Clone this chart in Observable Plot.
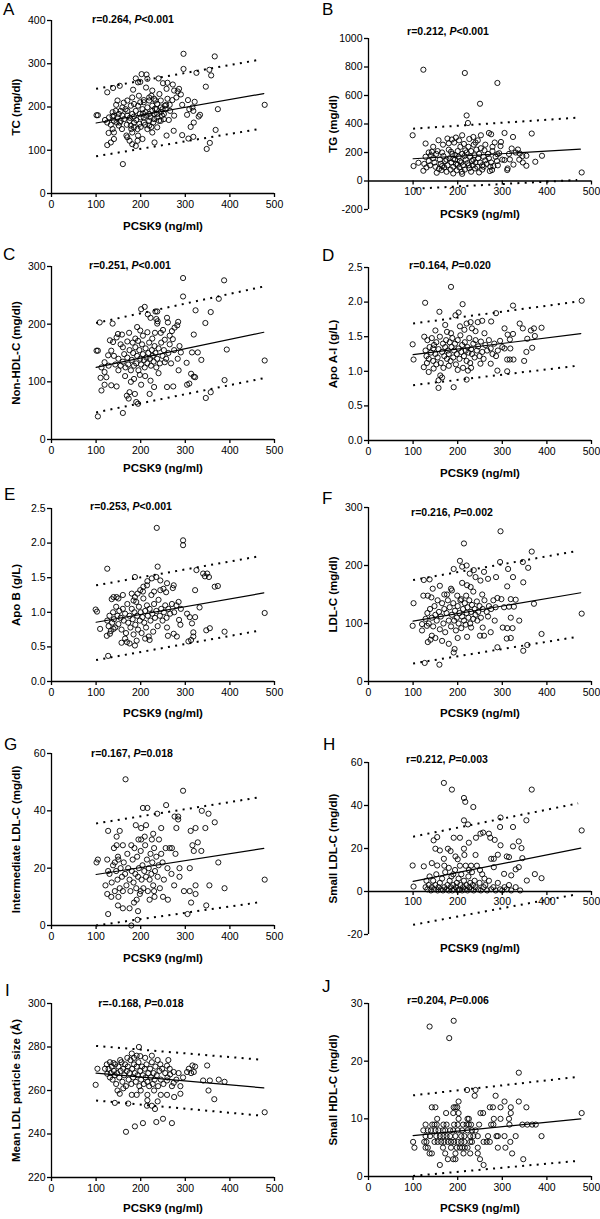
<!DOCTYPE html>
<html><head><meta charset="utf-8">
<script src="https://cdn.jsdelivr.net/npm/d3@7"></script>
<script src="https://cdn.jsdelivr.net/npm/@observablehq/plot@0.6"></script>
<style>
html,body{margin:0;padding:0;background:#fff;}
#root{position:relative;width:600px;height:1219px;overflow:hidden;font-family:"Liberation Sans",Arial,sans-serif;color:#000;}
.pan{position:absolute;}
.let{position:absolute;font-size:17px;line-height:17px;}
.stat{position:absolute;transform:translate(-50%,-50%);font-weight:bold;font-size:10.5px;white-space:nowrap;}
</style></head><body><div id="root"></div>
<script>
// ---------- data ----------
const panelKeys = ["A","B","C","D","E","F","G","H","I","J"];
const xLabel = "PCSK9 (ng/ml)";
const yLabels = ["TC (mg/dl)","TG (mg/dl)","Non-HDL-C (mg/dl)","Apo A-I (g/L)","Apo B (g/L)","LDL-C (mg/dl)","Intermediate LDL-C (mg/dl)","Small LDL-C (mg/dl)","Mean LDL particle size (\u00C5)","Small HDL-C (mg/dl)"];
const statR = ["0.264","0.212","0.251","0.164","0.253","0.216","0.167","0.212","-0.168","0.204"];
const statP = ["<0.001","<0.001","<0.001","=0.020","<0.001","=0.002","=0.018","=0.003","=0.018","=0.006"];
const xTicks = [0,100,200,300,400,500];

const ptsTC = [[101,181],[104,181],[160,68],[296,323],[366,317],[296,288],[325,279],[354,286],[358,273],[346,247],[373,195],[478,205],[368,147],[348,103],[355,117],[293,135],[258,134],[274,145],[231,118],[307,127],[318,131],[312,154],[319,164],[333,182],[330,178],[304,182],[309,195],[318,191],[321,212],[316,199],[306,216],
[189,266],[202,276],[213,275],[194,257],[199,258],[240,266],[226,238],[250,255],[258,242],[260,256],[215,265],[272,252],[275,238],[283,236],[286,242],[290,229],[280,222],[293,205],[271,216],[257,205],[249,195],[254,203],[224,226],[230,219],[219,215],[196,226],[207,216],[181,222],[153,249],[138,244],[148,215],[170,215],[125,234],
[125,112],[133,118],[140,126],[137,149],[140,141],[153,164],[168,134],[175,122],[181,114],[189,110],[193,122],[204,126],[194,134],[181,141],[179,149],[170,130],[215,149],[224,154],[226,141],[237,153],[245,168],[252,172],[263,170],[275,180],[148,176],[155,191],[166,195],[178,203],[189,191],[198,184],[207,176],[219,184],[226,191],[236,195],[245,188],[252,184],[237,176],[230,172],[219,168],[207,164],[197,161],[185,164],[175,168],[163,172],[151,184],[144,191],[137,188],[129,176],[125,164],[133,159],[140,168],[151,157],[158,149],[169,159],[178,157],[185,153],[193,149],[200,154],[210,159],[219,157],[228,164],[237,184],[245,199],[256,195],[266,191],[260,219],[237,207],[215,199],[204,195],[194,203],[181,184],[170,180],[159,180],[140,180],[159,199],[170,191],[200,176],[211,188],[222,176],[231,184],[241,168],[248,180],[226,203],[233,215],[245,215],[207,211],[219,222],[185,207],[199,211],[155,168],[146,164],[137,178],[120,170],[128,140],[145,205],[162,210],[185,178],[213,180],[232,196],[176,175],[190,170],[205,185],[265,205],[242,230],[212,245],[183,240]];
const fitTC = [[100,163],[476,231]];
const upTC = [[100,242],[465,309]];
const loTC = [[100,86],[465,149]];

const ptsTG = [[123,781],[216,758],[289,688],[250,542],[220,460],[223,407],[99,321],[128,263],[366,333],[324,309],[305,337],[270,337],[275,328],[252,321],[235,309],[177,298],[187,291],[157,286],[196,305],[210,321],[297,274],[321,228],[335,221],[339,193],[354,177],[389,177],[374,135],[354,107],[346,130],[317,151],[305,147],[289,188],[312,88],[311,77],[478,60],[101,105],[112,128],[123,72],[153,58],[164,77],[190,53],[209,65],[239,88],[258,100],[277,77],[273,100],
[125,120],[130,95],[135,140],[138,110],[140,180],[142,205],[145,160],[148,130],[150,100],[152,190],[155,210],[158,85],[160,150],[162,120],[165,200],[168,175],[170,95],[172,140],[175,65],[177,110],[180,220],[182,160],[184,80],[186,130],[188,190],[190,100],[192,270],[194,150],[196,120],[198,75],[200,210],[202,170],[204,95],[206,240],[208,130],[210,190],[212,110],[214,260],[216,80],[218,150],[220,200],[222,125],[224,240],[226,90],[228,170],[230,210],[232,140],[234,110],[236,255],[238,180],[240,130],[242,220],[244,100],[246,160],[248,190],[250,130],[252,230],[255,110],[258,170],[260,215],[262,145],[265,120],[268,190],[270,160],[272,70],[275,130],[278,210],[280,105],[283,270],[285,170],[288,140],[290,110],[293,195],[296,245],[300,150],[203,285],[226,295],[245,285],[180,265],[167,255],[145,240],[135,200],[128,170],[205,140],[215,175],[195,180],[185,205],[175,150],[165,105],[225,110],[235,150],[255,80],[262,255],[248,60],[230,65],[210,50],[190,155],[200,115],[217,215],[240,270],[278,240],[315,190],[330,200],[345,175],[325,115],[338,150]];
const fitTG = [[100,156],[475,223]];
const upTG = [[100,367],[468,444]];
const loTG = [[105,-54],[468,7]];

const ptsNonHDL = [[295,280],[387,276],[295,248],[375,244],[323,224],[357,221],[345,202],[319,182],[393,156],[478,137],[388,103],[357,82],[346,72],[303,133],[304,95],[309,97],[319,109],[313,114],[322,108],[328,151],[336,138],[315,151],[290,151],[287,162],[284,204],[282,198],[276,194],[272,174],[270,188],[254,173],[237,201],[235,209],[238,205],[259,211],[261,203],[265,165],[254,134],[273,92],[259,91],[230,91],[222,102],[220,79],[201,95],[194,62],[190,65],[187,79],[175,82],[173,71],[169,76],[160,46],[104,40],
[101,154],[104,154],[134,94],[146,92],[119,95],[112,85],[110,107],[119,117],[112,125],[119,134],[127,146],[134,154],[138,169],[131,172],[146,177],[149,183],[158,182],[137,201],[108,203],[201,226],[209,230],[216,217],[222,211],[233,222],[237,222],[199,189],[194,171],[215,186],
[150,140],[155,128],[160,135],[163,148],[166,125],[170,142],[172,130],[175,155],[178,120],[180,138],[183,150],[185,128],[188,160],[190,132],[192,145],[195,120],[197,155],[199,140],[201,130],[203,165],[205,148],[207,138],[209,125],[211,158],[213,142],[215,132],[217,150],[219,168],[221,140],[223,128],[225,155],[227,145],[229,135],[231,162],[233,150],[235,125],[237,140],[240,158],[243,132],[246,168],[249,145],[252,155],[257,140],[262,150],[268,132],[275,155],[283,140],[165,110],[178,100],[185,105],[160,160],[170,170],[188,175],[205,180],[226,175],[245,185],[150,120],[143,130],[140,145],[210,110],[240,115],[198,112],[182,168],[155,165],[174,185],[192,195],[232,185],[250,190],[265,180],[128,128],[123,108],[285,120]];
const fitNonHDL = [[100,125],[476,186]];
const upNonHDL = [[100,202],[474,265]];
const loNonHDL = [[100,47],[474,106]];

const ptsApoA = [[185,2.22],[127,1.99],[211,1.97],[159,1.86],[202,1.85],[324,1.95],[286,1.84],[478,2.02],[388,1.63],[339,1.69],[346,1.62],[364,1.59],[371,1.62],[373,1.51],[356,1.47],[305,1.62],[312,1.53],[324,1.54],[317,1.46],[318,1.33],[305,1.33],[367,1.34],[354,1.28],[349,1.15],[325,1.17],[317,1.17],[311,1.17],[311,1.00],[191,0.77],[157,0.76],[157,0.87],[165,0.91],[220,0.88],[223,1.01],[251,1.11],[274,1.11],[289,1.01],[135,0.99],[101,1.17],[99,1.39],[125,1.50],[124,1.06],[146,1.04],[152,1.10],[161,0.94],[275,1.72],[255,1.73],[245,1.71],[229,1.71],[220,1.69],[232,1.62],[195,1.81],[172,1.67],[176,1.57],[150,1.59],
[128,1.30],[130,1.22],[132,1.45],[135,1.18],[137,1.35],[140,1.27],[142,1.48],[145,1.15],[147,1.38],[150,1.25],[152,1.42],[155,1.20],[157,1.32],[160,1.50],[162,1.12],[165,1.28],[167,1.40],[170,1.22],[172,1.35],[174,1.45],[176,1.18],[178,1.30],[180,1.25],[182,1.42],[184,1.15],[186,1.35],[188,1.48],[190,1.20],[192,1.30],[194,1.40],[196,1.10],[198,1.25],[200,1.45],[202,1.33],[204,1.18],[206,1.52],[208,1.28],[210,1.38],[212,1.05],[214,1.22],[216,1.42],[218,1.30],[220,1.15],[222,1.35],[224,1.27],[226,1.48],[228,1.12],[230,1.32],[232,1.25],[235,1.40],[238,1.20],[240,1.45],[243,1.30],[246,1.36],[249,1.22],[252,1.43],[255,1.28],[258,1.18],[262,1.38],[266,1.30],[270,1.45],[274,1.33],[278,1.25],[282,1.40],[286,1.22],[290,1.30],[295,1.44],[300,1.35],[168,1.05],[180,1.08],[200,1.02],[185,1.55],[215,1.60],[240,1.58],[260,1.55],[145,1.33],[131,1.12],[205,1.65],[230,1.05]];
const fitApoA = [[100,1.24],[476,1.545]];
const upApoA = [[100,1.69],[472,2.01]];
const loApoA = [[100,0.80],[469,1.08]];

const ptsApoB = [[236,2.22],[295,2.04],[295,1.97],[125,1.63],[238,1.66],[187,1.51],[225,1.49],[325,1.61],[340,1.56],[349,1.56],[353,1.51],[344,1.52],[366,1.37],[373,1.38],[478,0.99],[388,0.72],[355,0.77],[347,0.74],[307,0.58],[313,0.60],[318,0.71],[318,0.65],[315,0.84],[310,0.93],[304,0.98],[322,0.93],[322,1.32],[332,1.07],[286,0.89],[289,0.82],[281,0.65],[274,0.69],[261,0.66],[259,0.78],[274,1.39],[272,1.35],[257,1.29],[259,1.42],[251,1.34],[244,1.32],[235,1.51],[244,1.46],[187,0.52],[191,0.59],[169,0.57],[157,0.56],[127,0.37],[124,0.66],[131,0.69],[139,0.76],[109,0.76],[99,1.04],[102,1.01],[139,1.22],[146,1.22],[135,1.19],[187,1.22],[199,1.32],[206,1.37],[214,1.39],[193,1.27],[184,1.17],[180,1.27],
[125,0.88],[128,0.80],[130,0.95],[133,0.73],[136,0.85],[138,1.00],[140,0.90],[143,0.78],[145,1.08],[148,0.95],[150,0.83],[152,1.02],[155,0.92],[157,0.75],[160,1.05],[162,0.88],[165,0.98],[167,0.70],[170,1.12],[172,0.85],[175,0.95],[177,0.78],[180,1.05],[182,0.90],[184,0.68],[186,1.00],[188,0.82],[190,1.15],[192,0.95],[194,0.75],[196,1.08],[198,0.88],[200,1.00],[202,0.70],[204,0.93],[206,1.20],[208,0.85],[210,1.02],[212,0.78],[214,1.10],[216,0.95],[218,0.65],[220,1.05],[222,0.88],[224,1.25],[226,0.98],[228,0.72],[230,1.12],[232,0.92],[235,1.02],[238,0.80],[240,1.18],[243,0.95],[246,1.05],[249,0.88],[252,1.00],[255,1.10],[258,0.92],[262,1.05],[266,0.98],[270,1.12],[275,1.00],[280,1.10],[285,1.15],[290,1.05],[165,0.62],[175,0.55],[210,0.62],[220,0.60],[150,1.20],[160,1.25],[205,1.30],[215,1.45],[230,1.30]];
const fitApoB = [[100,0.856],[476,1.28]];
const upApoB = [[100,1.39],[466,1.81]];
const loApoB = [[100,0.31],[466,0.735]];

const ptsLDL = [[296,259],[214,238],[366,224],[295,206],[205,208],[210,198],[191,194],[358,196],[347,171],[346,206],[313,194],[324,180],[286,180],[268,177],[259,189],[236,192],[227,186],[251,174],[220,200],[371,134],[311,164],[330,141],[319,142],[298,142],[289,144],[304,128],[315,129],[326,129],[338,105],[319,110],[301,93],[311,92],[323,92],[310,74],[319,75],[289,59],[347,53],[356,63],[388,82],[478,117],[268,112],[283,105],[274,85],[259,79],[250,79],[256,93],[244,105],[230,93],[221,77],[193,56],[191,50],[159,29],[126,32],[101,135],[99,96],[120,99],[131,96],[139,72],[133,68],[142,79],[120,88],[124,175],[137,176],[123,148],[133,148],[141,145],[144,160],[187,157],[176,150],[199,148],[208,142],[219,148],[221,166],[229,163],[240,180],
[128,108],[132,118],[135,100],[138,125],[142,110],[145,95],[148,130],[150,115],[153,105],[155,140],[158,120],[160,90],[162,112],[165,135],[168,100],[170,125],[172,85],[175,118],[178,140],[180,105],[182,128],[185,95],[187,115],[190,135],[192,105],[194,122],[196,88],[198,110],[200,130],[202,100],[204,118],[206,140],[208,92],[210,112],[212,125],[214,105],[216,135],[218,98],[220,118],[222,128],[224,110],[226,140],[228,100],[230,120],[232,132],[235,108],[238,125],[240,115],[243,138],[246,120],[249,130],[252,110],[256,125],[260,140],[265,120],[270,130],[275,125],[280,140],[285,128],[150,75],[165,70],[180,65],[200,75],[170,150],[185,160],[160,165],[210,170],[235,155],[255,150]];
const fitLDL = [[100,104],[476,153]];
const upLDL = [[100,175],[468,225]];
const loLDL = [[100,31],[468,77]];

const ptsIDL = [[166,51],[295,47],[257,42],[205,41],[215,41],[237,39],[276,38],[284,38],[280,34],[284,37],[337,40],[352,39],[366,36],[345,34],[323,34],[312,33],[328,29],[316,28],[336,26],[319,26],[374,22],[478,16],[354,14],[323,14],[388,13],[347,7],[305,4],[313,8],[310,12],[297,12],[323,11],[310,20],[287,20],[287,17],[269,18],[275,14],[261,9],[250,10],[231,10],[220,9],[191,9],[194,5],[193,2],[179,0],[149,7],[127,4],[134,10],[125,11],[121,14],[127,19],[142,22],[104,23],[101,22],[125,23],[127,33],[153,33],[146,31],[146,28],[140,27],[149,24],[179,28],[189,35],[201,30],[209,31],[228,32],[246,34],[241,30],[225,30],[201,34],
[130,18],[135,15],[138,21],[142,12],[145,19],[148,16],[150,23],[153,13],[155,20],[158,17],[160,12],[162,22],[165,18],[168,14],[170,25],[172,20],[175,16],[177,12],[180,19],[182,23],[184,15],[186,27],[188,18],[190,13],[192,24],[194,17],[196,20],[198,11],[200,26],[202,16],[204,21],[206,13],[208,19],[210,28],[212,17],[214,23],[216,12],[218,20],[220,16],[222,25],[224,18],[226,22],[228,14],[230,27],[232,19],[235,24],[238,17],[240,21],[243,13],[246,25],[249,22],[252,16],[256,27],[260,20],[265,27],[270,27],[278,25],[185,8],[175,6],[200,12],[160,28],[150,10],[212,35],[195,30],[230,12],[160,6]];
const fitIDL = [[100,17.8],[476,26.9]];
const upIDL = [[100,35.6],[466,44.7]];
const loIDL = [[100,0],[466,8.1]];

const ptsSmallLDL = [[169,50.5],[187,47.4],[366,47.4],[214,43.5],[217,41.7],[235,39.3],[270,26.9],[296,34.4],[295,30],[324,30],[354,33.1],[214,33.1],[223,31.2],[251,26.9],[257,27.4],[273,25],[283,24],[241,25],[225,22.7],[214,19.9],[191,25],[205,25],[154,25.3],[146,23.8],[150,19.9],[160,19.1],[178,19.9],[184,18.8],[169,15.2],[195,16.3],[296,21.5],[290,17.1],[310,16.3],[343,20.2],[337,23.3],[324,21],[315,16],[345,15.5],[373,8.1],[388,6.2],[355,5.1],[337,11.3],[330,10.3],[304,8.2],[320,7.5],[281,11.3],[275,15.2],[281,15.2],[478,28.4],[99,12.1],[101,2.3],[124,11.7],[142,13.2],[154,12.1],
[128,2],[130,5],[132,1],[135,3],[137,7],[140,0.5],[142,2],[145,5],[147,1],[150,3],[152,8],[155,0.5],[157,2],[160,4],[162,1],[165,6],[167,0.5],[170,2],[172,9],[175,1],[177,3],[180,0.5],[182,5],[184,2],[186,7],[188,0.5],[190,3],[192,1],[194,10],[196,2],[198,4],[200,0.5],[202,6],[204,1],[206,3],[208,8],[210,0.5],[212,2],[214,5],[216,1],[218,12],[220,3],[222,0.5],[224,7],[226,2],[228,4],[230,1],[232,9],[234,3],[236,0.5],[238,5],[240,2],[243,12],[246,1],[249,4],[252,0.5],[255,8],[258,2],[262,3],[266,0.5],[270,5],[275,1],[280,2],[285,0.5],[290,4],[295,1],[300,0.5],[305,2],[310,1],[315,3],[320,0.5],[330,2],[340,0.5],[205,12],[230,12],[250,10],[190,8],[180,11],[225,10],[260,6],[170,12],[200,15],[215,17],[240,17]];
const fitSmallLDL = [[100,4.7],[476,20.2]];
const upSmallLDL = [[100,25.5],[470,41]];
const loSmallLDL = [[100,-15.5],[470,-1.2]];

const ptsSize = [[99,262.6],[103,270],[167,241],[187,243.5],[205,245],[235,245.5],[250,247],[270,245],[478,250],[365,256],[352,260],[340,264.6],[355,264.6],[375,265],[388,264],[349,271.5],[319,268.5],[316,271.5],[308,270],[322,271],[313,268],[304,268.5],[295,266],[289,262],[289,258.5],[275,257],[259,258],[225,253],[215,255.5],[191,258],[172,254],[142,254.3],[148,260],[161,261],[153,258.5],[180,258],[214,253],[232,251.5],[238,255],[259,264.6],[274,263.5],[266,267.4],[274,268.5],[285,268],[259,271.4],[262,274],[244,272],[238,274],[199,275.8],[196,280],[191,276],[180,277],[154,274],[139,272.6],[131,273],[124,272],[120,270],[125,267.7],[131,266],[142,267],
[128,270],[133,268],[135,271],[137,265],[140,269],[143,272],[145,263],[147,268],[150,271],[152,266],[155,269],[157,273],[159,264],[161,270],[163,267],[165,272],[167,262],[169,269],[171,271],[173,265],[175,268],[177,274],[179,263],[181,270],[183,266],[185,272],[187,268],[189,264],[191,271],[193,267],[195,273],[197,262],[199,269],[201,265],[203,271],[205,267],[207,263],[209,270],[211,266],[213,272],[215,264],[217,268],[219,262],[221,270],[223,266],[225,273],[227,263],[229,268],[231,265],[233,271],[236,267],[239,262],[242,269],[245,265],[248,270],[251,263],[255,268],[260,266],[265,270],[270,262],[280,265],[215,258],[200,260],[230,260],[245,258],[185,275],[210,275],[225,276],[170,275]];
const fitSize = [[100,268],[476,261.2]];
const upSize = [[100,280.5],[468,274.2]];
const loSize = [[100,255.4],[468,248.5]];

const ptsSmallHDL = [[137,26],[191,27],[181,24],[337,18],[478,11],[388,7],
[160,2],[258,2],[178,3],[190,3],[195,3],[250,3],[347,3],
[137,4],[142,4],[172,4],[195,4],[213,4],[228,4],[245,4],[322,4],
[103,5],[128,5],[133,5],[167,5],[185,5],[198,5],[205,5],[210,5],[216,5],[222,5],[245,5],[290,5],[307,5],
[100,6],[125,6],[130,6],[148,6],[155,6],[163,6],[170,6],[178,6],[185,6],[192,6],[200,6],[208,6],[215,6],[228,6],[232,6],[258,6],[265,6],[272,6],[318,6],
[128,7],[138,7],[152,7],[160,7],[168,7],[175,7],[183,7],[195,7],[208,7],[215,7],[228,7],[235,7],[245,7],[268,7],[287,7],[290,7],[305,7],[330,7],
[123,8],[133,8],[140,8],[150,8],[157,8],[167,8],[172,8],[183,8],[190,8],[200,8],[210,8],[222,8],[232,8],[240,8],
[128,9],[143,9],[148,9],[153,9],[168,9],[175,9],[192,9],[200,9],[212,9],[220,9],[225,9],[230,9],[248,9],[275,9],[280,9],[316,9],[345,9],[356,9],[367,9],[375,9],
[154,10],[202,10],[222,10],[225,10],[281,10],[296,10],[315,10],
[174,11],[190,11],[202,11],[251,11],[257,11],[319,11],
[142,12],[150,12],[191,12],[195,12],[199,12],[272,12],[279,12],[296,12],[319,12],[354,12],
[202,13],[305,13],[337,13],[238,14],[285,14],[221,15],[240,15]];
const fitSmallHDL = [[100,7.1],[476,10.0]];
const upSmallHDL = [[100,14.07],[468,17.26]];
const loSmallHDL = [[100,0.1],[468,2.7]];

// ---------- layout ----------
const panels = [
 {col:0, top:20,   bottom:193,  yDomain:[0,400],    yTicks:[0,100,200,300,400],          pts:ptsTC,       fit:fitTC,       up:upTC,       lo:loTC,       xDy:33, stat:[133,19],   letter:[3,9.5]},
 {col:1, top:38,   bottom:209,  yDomain:[-200,1000],yTicks:[-200,0,200,400,600,800,1000],pts:ptsTG,     fit:fitTG,       up:upTG,       lo:loTG,       xDy:5,  stat:[448,31],   letter:[322,9.5]},
 {col:0, top:266,  bottom:439,  yDomain:[0,300],    yTicks:[0,100,200,300],              pts:ptsNonHDL,   fit:fitNonHDL,   up:upNonHDL,   lo:loNonHDL,   xDy:29, stat:[130,265],  letter:[3,254]},
 {col:1, top:267,  bottom:440,  yDomain:[0,2.5],    yTicks:[0,0.5,1,1.5,2,2.5], dec:true,    pts:ptsApoA,     fit:fitApoA,     up:upApoA,     lo:loApoA,     xDy:33, stat:[450,265],  letter:[322,255]},
 {col:0, top:508,  bottom:681,  yDomain:[0,2.5],    yTicks:[0,0.5,1,1.5,2,2.5], dec:true,    pts:ptsApoB,     fit:fitApoB,     up:upApoB,     lo:loApoB,     xDy:32, stat:[131,506],  letter:[4,494]},
 {col:1, top:507,  bottom:681,  yDomain:[0,300],    yTicks:[0,100,200,300],              pts:ptsLDL,      fit:fitLDL,      up:upLDL,      lo:loLDL,      xDy:32, stat:[452,512],  letter:[322,498]},
 {col:0, top:753,  bottom:925,  yDomain:[0,60],     yTicks:[0,20,40,60],                 pts:ptsIDL,      fit:fitIDL,      up:upIDL,      lo:loIDL,      xDy:33, stat:[132,753],  letter:[4,744]},
 {col:1, top:762,  bottom:934,  yDomain:[-20,60],   yTicks:[-20,0,20,40,60],             pts:ptsSmallLDL, fit:fitSmallLDL, up:upSmallLDL, lo:loSmallLDL, xDy:14, stat:[447,759],  letter:[323,744]},
 {col:0, top:1003, bottom:1177, yDomain:[220,300],  yTicks:[220,240,260,280,300],        pts:ptsSize,     fit:fitSize,     up:upSize,     lo:loSize,     xDy:31, stat:[141,1003], letter:[5,990]},
 {col:1, top:1003, bottom:1176, yDomain:[0,30],     yTicks:[0,10,20,30],                 pts:ptsSmallHDL, fit:fitSmallHDL, up:upSmallHDL, lo:loSmallHDL, xDy:32, stat:[448,1000], letter:[322,986]}
];

const root = document.getElementById("root");
const FONT = '"Liberation Sans", Arial, sans-serif';

panels.forEach((p, i) => {
  const left = p.col ? 300 : 0;
  const mL = p.col ? 68 : 51, mR = p.col ? 9 : 26, mT = 18, mB = 45;
  const innerH = p.bottom - p.top;
  const H = innerH + mT + mB;
  const [y0, y1] = p.yDomain;
  const zeroAxis = y0 < 0;
  const axisBase = zeroAxis ? 0 : y0;
  const tickLen = (y1 - y0) / innerH * 4;
  const fmt = p.dec ? (d => d.toFixed(1)) : (d => String(d));
  const dotted = {x: d => d[0], y: d => d[1], stroke: "#000", strokeWidth: 2, strokeDasharray: "2,5.3", strokeLinecap: "butt"};
  const marks = [
    Plot.ruleX([0], {stroke: "#000", strokeWidth: 1.3}),
    Plot.ruleY([axisBase], {stroke: "#000", strokeWidth: 1.3}),
    Plot.axisY(p.yTicks, {tickSize: 4, tickPadding: 2, tickFormat: fmt, label: null, fontSize: 10.5, strokeWidth: 1.3})
  ];
  if (zeroAxis) {
    marks.push(Plot.ruleX(xTicks.slice(1), {x: d => d, y1: 0, y2: -tickLen, stroke: "#000", strokeWidth: 1.3}));
    marks.push(Plot.text(xTicks.slice(1), {x: d => d, y: 0, dy: 10.5, text: d => String(d), fontSize: 10.5}));
  } else {
    marks.push(Plot.axisX(xTicks, {tickSize: 4, tickPadding: 3, label: null, fontSize: 10.5, strokeWidth: 1.3}));
  }
  marks.push(
    Plot.dot(p.pts, {x: d => d[0], y: d => d[1], r: 2.6, stroke: "#000", strokeWidth: 0.9, fill: "none"}),
    Plot.line(p.fit, {x: d => d[0], y: d => d[1], stroke: "#000", strokeWidth: 1.2}),
    Plot.line(p.up, dotted),
    Plot.line(p.lo, dotted),
    Plot.text([yLabels[i]], {frameAnchor: "left", textAnchor: "middle", lineAnchor: "middle", rotate: -90, dx: -35, fontWeight: "bold", fontSize: 11.5}),
    Plot.text([xLabel], {frameAnchor: "bottom", textAnchor: "middle", lineAnchor: "middle", dy: p.xDy, fontWeight: "bold", fontSize: 11.5})
  );
  const chart = Plot.plot({
    width: 300, height: H,
    marginLeft: mL, marginRight: mR, marginTop: mT, marginBottom: mB,
    x: Object.assign({domain: [0, 500]}, zeroAxis ? {axis: null} : {}),
    y: {domain: p.yDomain, axis: null},
    style: {fontFamily: FONT, fontSize: "10.5px", color: "#000", background: "transparent", overflow: "visible"},
    marks
  });
  const wrap = document.createElement("div");
  wrap.className = "pan";
  wrap.style.left = left + "px";
  wrap.style.top = (p.top - mT) + "px";
  wrap.appendChild(chart);
  root.appendChild(wrap);

  const let_ = document.createElement("div");
  let_.className = "let";
  let_.style.left = p.letter[0] + "px";
  let_.style.top = (p.letter[1] - 8.5) + "px";
  let_.textContent = panelKeys[i];
  root.appendChild(let_);

  const st = document.createElement("div");
  st.className = "stat";
  st.style.left = p.stat[0] + "px";
  st.style.top = p.stat[1] + "px";
  st.appendChild(document.createTextNode("r=" + statR[i] + ", "));
  const it = document.createElement("i");
  it.textContent = "P";
  st.appendChild(it);
  st.appendChild(document.createTextNode(statP[i]));
  root.appendChild(st);
});
</script></body></html>
